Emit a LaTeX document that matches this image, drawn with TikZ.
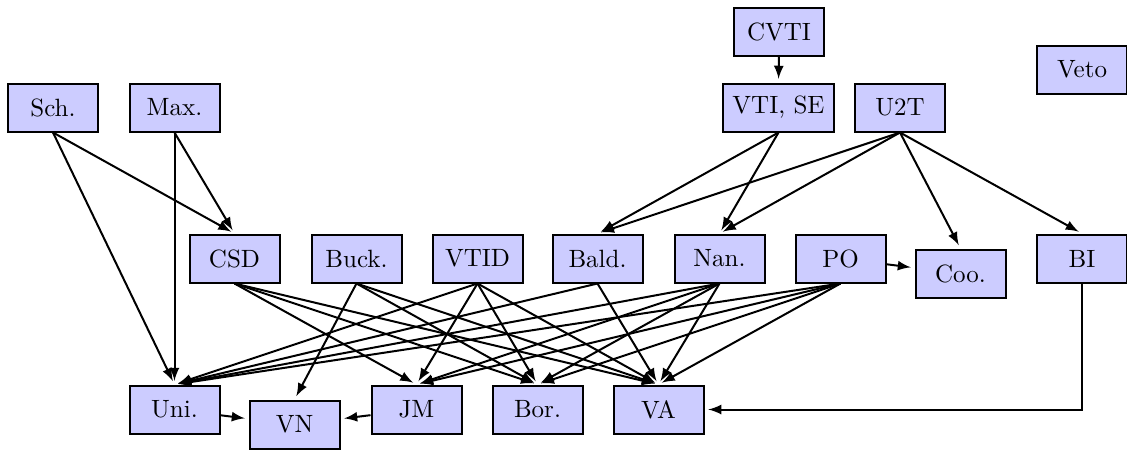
\documentclass[tikz,border=0pt]{standalone}
\usetikzlibrary{arrows}
\begin{document}
\begin{tikzpicture}[x=0.4pt,y=-0.4pt,
  box/.style={draw,thick,fill=blue!20,minimum width=36pt,minimum height=19.2pt,inner sep=3.8pt},
  link/.style={thick,-latex,shorten >=1.5pt}]
\useasboundingbox (0,0) rectangle (1127,449);
% top row
\node[box] (CVTI) at (779,31.5) {CVTI};
\node[box] (Veto) at (1082,69.5) {Veto};
\node[box] (Sch) at (53,107.5) {Sch.};
\node[box] (Max) at (174.5,107.5) {Max.};
\node[box] (VTISE) at (778.5,107.5) {VTI, SE};
\node[box] (U2T) at (900,107.5) {U2T};
% middle row
\node[box] (CSD) at (234.5,258.5) {CSD};
\node[box] (Buck) at (356.5,258.5) {Buck.};
\node[box] (VTID) at (477.5,258.5) {VTID};
\node[box] (Bald) at (597.5,258.5) {Bald.};
\node[box] (Nan) at (719.5,258.5) {Nan.};
\node[box] (PO) at (840.5,258.5) {PO};
\node[box] (Coo) at (960.5,273.5) {Coo.};
\node[box] (BI) at (1082,258.5) {BI};
% bottom row
\node[box] (Uni) at (174.5,409.5) {Uni.};
\node[box] (VN) at (294.5,424.5) {VN};
\node[box] (JM) at (416.5,409.5) {JM};
\node[box] (Bor) at (537.5,409.5) {Bor.};
\node[box] (VA) at (658.5,409.5) {VA};
% edges
\foreach \a/\b in {Sch/CSD,Sch/Uni,Max/CSD,Max/Uni,CVTI/VTISE,
  VTISE/Bald,VTISE/Nan,U2T/Bald,U2T/Nan,U2T/Coo,U2T/BI,
  CSD/JM,CSD/Bor,CSD/VA,Buck/VN,Buck/Bor,Buck/VA,
  VTID/Uni,VTID/JM,VTID/Bor,VTID/VA,Bald/Uni,Bald/VA,
  Nan/Uni,Nan/JM,Nan/Bor,Nan/VA,PO/Uni,PO/JM,PO/Bor,PO/VA}
  \draw[link] (\a.south) -- (\b.north);
\draw[link] (PO) -- (Coo);
\draw[link] (Uni) -- (VN);
\draw[link] (JM) -- (VN);
\draw[link] (BI.south) |- (VA.east);
\end{tikzpicture}
\end{document}
